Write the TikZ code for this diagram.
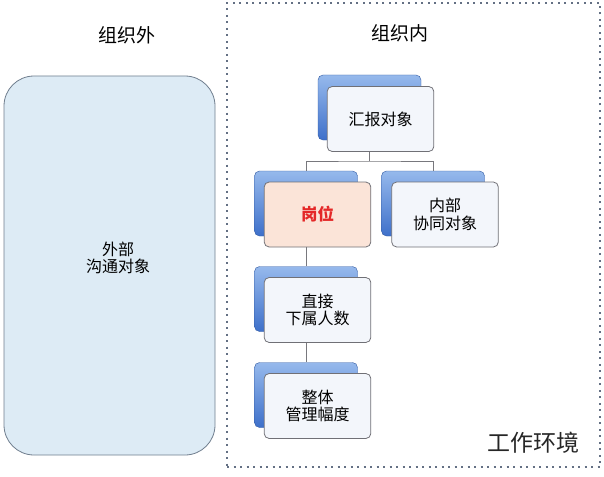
\documentclass[tikz,border=0pt]{standalone}
\usepackage{fontspec}
\setmainfont{Noto Sans CJK SC}
\usepackage{tikz}
\usetikzlibrary{positioning,calc}

\definecolor{backTop}{RGB}{150,185,236}
\definecolor{backBot}{RGB}{62,112,202}
\definecolor{frontFill}{RGB}{243,246,251}
\definecolor{frontEdge}{RGB}{112,112,118}
\definecolor{postFill}{RGB}{251,228,216}
\definecolor{postText}{RGB}{228,40,40}
\definecolor{outerFill}{RGB}{221,235,245}
\definecolor{outerEdge}{RGB}{112,126,142}
\definecolor{zoneEdge}{RGB}{100,112,132}
\definecolor{connGray}{RGB}{120,120,125}

\begin{document}
\begin{tikzpicture}[
    x=1pt, y=-1pt,
    font=\fontsize{16}{17.5}\selectfont,
    backBox/.style={
        rectangle, rounded corners=5pt, draw=backBot!80!black, line width=0.4pt,
        top color=backTop, bottom color=backBot,
        minimum width=103pt, minimum height=65pt
    },
    frontBox/.style={
        rectangle, rounded corners=5pt, draw=frontEdge, line width=0.8pt,
        fill=frontFill, text width=100pt, align=center,
        minimum width=103pt, minimum height=65pt
    },
    postBox/.style={frontBox, fill=postFill, text=postText, font=\fontsize{16.5}{18}\selectfont\bfseries},
    outerBox/.style={
        rectangle, rounded corners=30pt, draw=outerEdge, line width=0.8pt,
        fill=outerFill, minimum width=211pt, minimum height=379pt
    },
    zone/.style={
        rectangle, draw=zoneEdge, line width=2pt, dash pattern=on 2pt off 4.5pt,
        minimum width=373pt, minimum height=464pt
    },
    conn/.style={draw=connGray, line width=0.8pt},
    title/.style={font=\fontsize{19}{21}\selectfont}
]
\useasboundingbox (0,0) rectangle (604,476);

% Zones
\node[outerBox] (outer) at (109.5,265.5) {};
\node[align=center] (outerText) at (118,258) {外部\\沟通对象};
\node[zone] (inner) at (413.5,235) {};

% Titles
\node[title] (outTitle) at (127,35) {组织外};
\node[title] (inTitle) at (400,33) {组织内};
\node[font=\fontsize{23}{25}\selectfont, text=black!85] (envTitle) at (533,443) {工作环境};

% Back cards
\node[backBox] (reportB) at (369.5,107.5) {};
\node[backBox] (postB) at (306,203.5) {};
\node[backBox] (peerB) at (433,203.5) {};
\node[backBox] (directB) at (306,299) {};
\node[backBox] (spanB) at (306,395) {};

% Front cards
\node[frontBox] (reportF) at (380.5,119) {汇报对象};
\node[postBox] (postF) at (317.5,214.5) {岗位};
\node[frontBox] (peerF) at (445,214.5) {内部\\协同对象};
\node[frontBox] (directF) at (317.5,310) {直接\\下属人数};
\node[frontBox] (spanF) at (317.5,406) {整体\\管理幅度};

% Connectors
\coordinate (split) at (369.5,161);
\draw[conn] (reportF.south -| reportB.center) -- (split);
\draw[conn] (postB.north) |- (split) -| (peerB.north);
\draw[conn] (postF.south -| postB.center) -- (directB.north);
\draw[conn] (directF.south -| directB.center) -- (spanB.north);

\end{tikzpicture}
\end{document}
